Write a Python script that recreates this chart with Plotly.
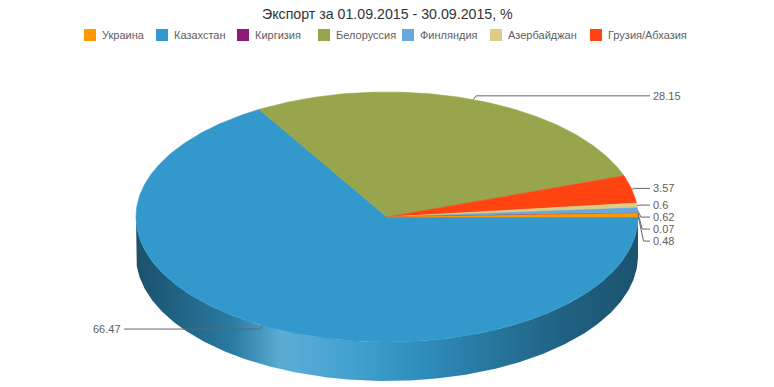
import numpy as np
import plotly.graph_objects as go

# ---------------- data ----------------
categories = ["Украина", "Казахстан", "Киргизия", "Белоруссия",
              "Финляндия", "Азербайджан", "Грузия/Абхазия"]
values = [0.48, 66.47, 0.07, 28.15, 0.62, 0.60, 3.57]
colors = ["#ff9900", "#3399cc", "#8b1a79", "#99a54c",
          "#66aadd", "#ddcc88", "#ff4411"]
# clockwise drawing order of the slices, starting at 3 o'clock
slice_order = ["Казахстан", "Белоруссия", "Грузия/Абхазия", "Азербайджан",
               "Финляндия", "Киргизия", "Украина"]
title_text = "Экспорт за 01.09.2015 - 30.09.2015, %"

# ---------------- layout / style constants (pixels) ----------------
W, H = 774, 387
CX, CY, RX, RY, DEPTH = 387, 217, 251, 125, 39
START_DEG = 0.0
LABEL_GAP = 4
LINE_SPACING = 12
FONT = "Liberation Sans, Arial, sans-serif"
LEGEND_X = [84, 156, 237, 318, 402, 490, 590]
LEGEND_Y = 35
# side-wall shading: (position, shade) ; shade<0 -> darker, >0 -> lighter
SIDE_SHADE = [(0.0, -0.47), (0.19, -0.20), (0.29, 0.20), (0.43, 0.08),
              (0.57, -0.08), (0.73, -0.25), (0.86, -0.37), (1.0, -0.46)]


def hex2rgb(h):
    h = h.lstrip("#")
    return [int(h[i:i + 2], 16) for i in (0, 2, 4)]


def shade(h, s):
    r = np.array(hex2rgb(h), dtype=float)
    if s < 0:
        r = r * (1 + s)
    else:
        r = r + (255 - r) * s
    r = np.clip(np.round(r), 0, 255).astype(int)
    return "rgb(%d,%d,%d)" % tuple(r)


def ex(t):
    return CX + RX * np.cos(np.radians(t))


def ey(t):
    return CY - RY * np.sin(np.radians(t))


total = float(sum(values))
val = dict(zip(categories, values))
col = dict(zip(categories, colors))

# angles (degrees, math convention, clockwise on screen = decreasing)
angles = {}
cur = START_DEG
for name in slice_order:
    span = val[name] / total * 360.0
    angles[name] = (cur, cur - span)
    cur -= span

fig = go.Figure()

# ---------------- side walls (front half only) ----------------
for name in slice_order:
    a0, a1 = angles[name]
    hi, lo = min(a0, 0.0), max(a1, -180.0)
    if hi - lo <= 0.01:
        continue
    t = np.linspace(hi, lo, max(int((hi - lo) * 2), 4))
    xs = np.concatenate([ex(t), ex(t[::-1])])
    ys = np.concatenate([ey(t), ey(t[::-1]) + DEPTH])
    cs = [[p, shade(col[name], s)] for p, s in SIDE_SHADE]
    fig.add_trace(go.Scatter(
        x=xs, y=ys, mode="lines", fill="toself",
        line=dict(width=0, color=shade(col[name], -0.4)),
        fillcolor=shade(col[name], -0.2),
        fillgradient=dict(type="horizontal", colorscale=cs),
        hoverinfo="skip", showlegend=False))

# ---------------- top faces ----------------
for name in slice_order:
    a0, a1 = angles[name]
    n = max(int(abs(a0 - a1) * 2), 3)
    t = np.linspace(a0, a1, n)
    xs = np.concatenate([[CX], ex(t), [CX]])
    ys = np.concatenate([[CY], ey(t), [CY]])
    fig.add_trace(go.Scatter(
        x=xs, y=ys, mode="lines", fill="toself",
        line=dict(width=0.6, color=col[name]), fillcolor=col[name],
        name=name, hoverinfo="skip", showlegend=False))

# ---------------- data labels ----------------
labels = []
for name in slice_order:
    a0, a1 = angles[name]
    mid = (a0 + a1) / 2.0
    side = 1 if np.cos(np.radians(mid)) >= 0 else -1
    nat = CY - (RY + LABEL_GAP) * np.sin(np.radians(mid))
    labels.append(dict(name=name, mid=mid, side=side, nat=nat,
                       ex=ex(mid), ey=ey(mid)))

for s in (1, -1):
    group = sorted([l for l in labels if l["side"] == s], key=lambda l: l["nat"])
    prev = -1e9
    for l in group:
        l["ly"] = max(l["nat"], prev + LINE_SPACING)
        prev = l["ly"]

lx, lyy = [], []
for l in labels:
    s = l["side"]
    line_end = CX + s * (RX + 12)
    kx = l["ex"] + s * (2.5 + 0.12 * abs(l["ly"] - l["ey"]))
    lx += [l["ex"], kx, line_end, None]
    lyy += [l["ey"], l["ly"], l["ly"], None]
    fig.add_annotation(
        x=line_end + s * 1, y=l["ly"], xref="x", yref="y",
        text=("%g" % val[l["name"]]), showarrow=False,
        xanchor="left" if s > 0 else "right", yanchor="middle",
        font=dict(family=FONT, size=11, color="#606060"))

fig.add_trace(go.Scatter(x=lx, y=lyy, mode="lines",
                         line=dict(color="#666666", width=1),
                         hoverinfo="skip", showlegend=False))

# ---------------- legend (manual) ----------------
fig.add_trace(go.Scatter(
    x=[x0 + 6 for x0 in LEGEND_X], y=[LEGEND_Y] * len(categories),
    mode="markers",
    marker=dict(symbol="square", size=12, color=colors, line=dict(width=0)),
    hoverinfo="skip", showlegend=False))
for x0, name in zip(LEGEND_X, categories):
    fig.add_annotation(x=x0 + 15.5, y=LEGEND_Y, xref="x", yref="y",
                       text=name, showarrow=False, xanchor="left",
                       yanchor="middle",
                       font=dict(family=FONT, size=11, color="#606060"))

# ---------------- title ----------------
fig.add_annotation(x=W / 2, y=14, xref="x", yref="y", text=title_text,
                   showarrow=False, xanchor="center", yanchor="middle",
                   font=dict(family=FONT, size=14.2, color="#333333"))

fig.update_layout(
    width=W, height=H, margin=dict(l=0, r=0, t=0, b=0),
    paper_bgcolor="white", plot_bgcolor="white", showlegend=False,
    xaxis=dict(range=[0, W], visible=False, fixedrange=True),
    yaxis=dict(range=[H, 0], visible=False, fixedrange=True),
)

fig.write_html(
    "out.html",
    config={"displayModeBar": False, "staticPlot": True},
    post_script="document.body.style.margin='0';document.body.style.overflow='hidden';",
)
